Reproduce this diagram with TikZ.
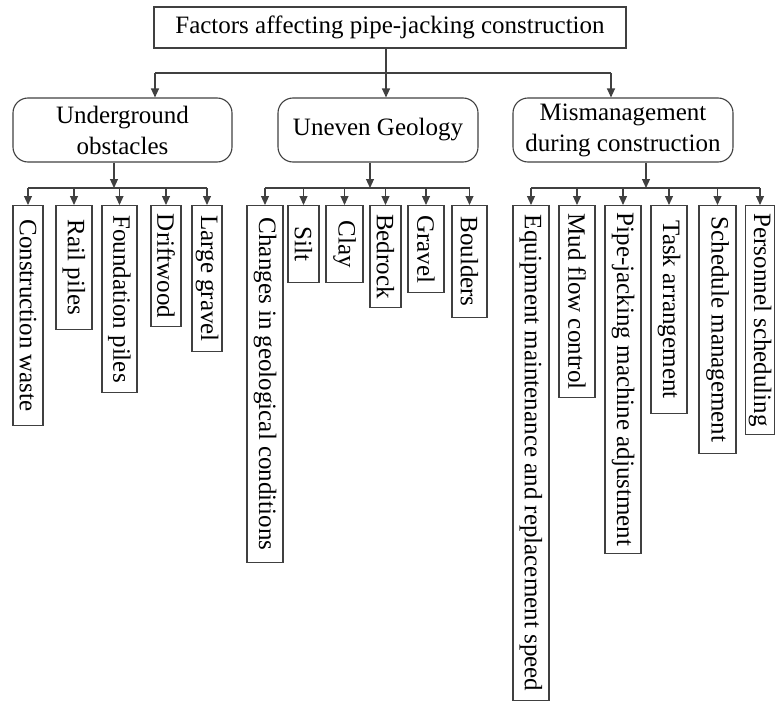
\documentclass[tikz,border=0pt]{standalone}
\usepackage{fontspec}
\setmainfont{Liberation Serif}
\usetikzlibrary{arrows.meta,calc}
\definecolor{linec}{HTML}{404040}
\begin{document}
\begin{tikzpicture}[x=1pt,y=-1pt,
  font=\fontsize{25}{31}\selectfont,
  line/.style={draw=linec, line width=1.1pt},
  arr/.style={draw=linec, line width=1.1pt, -{Triangle[width=8pt,length=9pt]}},
  topbox/.style={draw=linec, line width=1.1pt, minimum width=472pt, minimum height=41pt, inner sep=0pt},
  midbox/.style={draw=linec, line width=1.1pt, rounded corners=15pt, minimum height=64pt, align=center, inner sep=0pt},
  leafbox/.style={draw=linec, line width=1.1pt, rotate=-90, anchor=west, inner sep=0pt}]
\useasboundingbox (0,0) rectangle (776,701);

% top
\node[topbox] (T) at (390,27.5) {Factors affecting pipe-jacking construction};

% middle
\node[midbox, minimum width=219pt] (U) at (122.5,130) {Underground\\obstacles};
\node[midbox, minimum width=200pt] (G) at (378,130) {Uneven Geology};
\node[midbox, minimum width=220pt] (M) at (623,130) {Mismanagement\\during construction};

% leaves: Underground
\node[leafbox, minimum width=220pt, minimum height=30pt] (u1) at (28,205) {Construction waste};
\node[leafbox, minimum width=124pt, minimum height=36pt] (u2) at (74,205) {Rail piles};
\node[leafbox, minimum width=187pt, minimum height=35pt] (u3) at (119.5,205) {Foundation piles};
\node[leafbox, minimum width=121pt, minimum height=30pt] (u4) at (166,205) {Driftwood};
\node[leafbox, minimum width=146pt, minimum height=30pt] (u5) at (207,205) {Large gravel};

% leaves: Geology
\node[leafbox, minimum width=357pt, minimum height=36pt] (g1) at (265,205) {Changes in geological conditions};
\node[leafbox, minimum width=77pt, minimum height=31pt] (g2) at (303.5,205) {Silt};
\node[leafbox, minimum width=77pt, minimum height=37pt] (g3) at (344.5,205) {Clay};
\node[leafbox, minimum width=102pt, minimum height=31pt] (g4) at (385.5,205) {Bedrock};
\node[leafbox, minimum width=87pt, minimum height=36pt] (g5) at (426,205) {Gravel};
\node[leafbox, minimum width=112pt, minimum height=35pt] (g6) at (469.5,205) {Boulders};

% leaves: Mismanagement
\node[leafbox, minimum width=495pt, minimum height=36pt] (m1) at (531,205) {Equipment maintenance and replacement speed};
\node[leafbox, minimum width=192pt, minimum height=36pt] (m2) at (577,205) {Mud flow control};
\node[leafbox, minimum width=348pt, minimum height=36pt] (m3) at (623,205) {Pipe-jacking machine adjustment};
\node[leafbox, minimum width=208pt, minimum height=36pt] (m4) at (669,205) {Task arrangement};
\node[leafbox, minimum width=248pt, minimum height=37pt] (m5) at (717.5,205) {Schedule management};
\node[leafbox, minimum width=229pt, minimum height=29pt] (m6) at (760,205) {Personnel scheduling};

% top connectors
\coordinate (jt) at (386,73);
\coordinate (aU) at (155,73);
\coordinate (aM) at (611,73);
\draw[line] (aU) -- (aM);
\draw[arr] (T.south -| jt) -- (G.north -| jt);
\draw[arr] (aU) -- (U.north -| aU);
\draw[arr] (aM) -- (M.north -| aM);

% Underground connectors
\coordinate (ju) at (114,188);
\draw[arr] (U.south -| ju) -- (ju);
\draw[line] (u1.west |- ju) -- (u5.west |- ju);
\foreach \i in {1,...,5} \draw[arr] (u\i.west |- ju) -- (u\i.west);

% Geology connectors
\coordinate (jg) at (370,188);
\draw[arr] (G.south -| jg) -- (jg);
\draw[line] (g1.west |- jg) -- (g6.west |- jg);
\foreach \i in {1,...,6} \draw[arr] (g\i.west |- jg) -- (g\i.west);

% Mismanagement connectors
\coordinate (jm) at (646,188);
\draw[arr] (M.south -| jm) -- (jm);
\draw[line] (m1.west |- jm) -- (m6.west |- jm);
\foreach \i in {1,...,6} \draw[arr] (m\i.west |- jm) -- (m\i.west);
\end{tikzpicture}
\end{document}
